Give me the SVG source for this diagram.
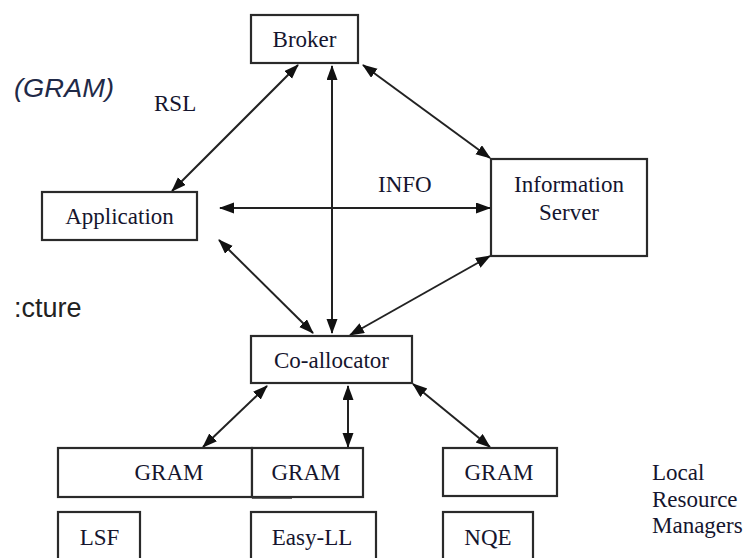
<svg xmlns="http://www.w3.org/2000/svg" width="747" height="558" viewBox="0 0 747 558">
<style>
.box{fill:#fff;stroke:#2a2a2a;stroke-width:2.2}
.t{font-family:"Liberation Serif","Times New Roman",serif;font-size:23px;fill:#15152e;text-anchor:middle}
.l{font-family:"Liberation Serif","Times New Roman",serif;font-size:23px;fill:#15152e}
.s{font-family:"Liberation Sans",Arial,sans-serif;font-size:25px;fill:#1f2a48}
.c{stroke:#222;stroke-width:2;fill:none;marker-start:url(#ah);marker-end:url(#ah)}
</style>
<defs>
<marker id="ah" markerUnits="userSpaceOnUse" markerWidth="16" markerHeight="12" refX="14" refY="5.5" orient="auto-start-reverse">
<path d="M0,0 L15,5.5 L0,11 z" fill="#111"/>
</marker>
</defs>
<rect width="747" height="558" fill="#fff"/>
<text class="s" x="14" y="97" font-style="italic" textLength="100" lengthAdjust="spacingAndGlyphs">(GRAM)</text>
<text class="s" x="14" y="317" style="font-size:27px;fill:#222">:cture</text>
<text class="l" x="154" y="111">RSL</text>
<text class="l" x="378" y="192">INFO</text>
<g id="connectors">
<line class="c" x1="172" y1="191" x2="298" y2="65"/>
<line class="c" x1="332" y1="333" x2="332" y2="66"/>
<line class="c" x1="363" y1="65" x2="490" y2="158"/>
<line class="c" x1="220" y1="208" x2="490" y2="208"/>
<line class="c" x1="219" y1="240" x2="313" y2="333"/>
<line class="c" x1="490" y1="256" x2="350" y2="335"/>
<line class="c" x1="267" y1="386" x2="203" y2="447"/>
<line class="c" x1="348" y1="386" x2="348" y2="447"/>
<line class="c" x1="413" y1="384" x2="490" y2="447"/>
</g>
<g id="broker"><rect class="box" x="251" y="15" width="107" height="48"/><text class="t" x="304.5" y="47">Broker</text></g>
<g id="application"><rect class="box" x="42" y="192" width="155" height="48"/><text class="t" x="119.5" y="224">Application</text></g>
<g id="info-server"><rect class="box" x="491" y="159" width="156" height="97"/><text class="t" x="569" y="192">Information</text><text class="t" x="569" y="220">Server</text></g>
<g id="co-allocator"><rect class="box" x="251" y="336" width="161" height="47"/><text class="t" x="331.5" y="368">Co-allocator</text></g>
<g id="gram1"><rect class="box" x="58" y="448" width="194" height="49"/><text class="t" x="169" y="480">GRAM</text></g>
<g id="gram2"><rect class="box" x="252" y="448" width="111" height="49"/><line x1="252" y1="498" x2="292" y2="498" stroke="#333" stroke-width="1.5"/><text class="t" x="306" y="480">GRAM</text></g>
<g id="gram3"><rect class="box" x="443" y="448" width="114" height="48"/><text class="t" x="499" y="480">GRAM</text></g>
<g id="lsf"><rect class="box" x="58" y="512" width="82" height="50"/><text class="t" x="99.5" y="545">LSF</text></g>
<g id="easy-ll"><rect class="box" x="251" y="512" width="125" height="50"/><text class="t" x="312" y="545">Easy-LL</text></g>
<g id="nqe"><rect class="box" x="443" y="512" width="90" height="50"/><text class="t" x="488" y="545">NQE</text></g>
<g id="lrm"><text class="l" x="652" y="480">Local</text><text class="l" x="652" y="507">Resource</text><text class="l" x="652" y="533">Managers</text></g>
</svg>
